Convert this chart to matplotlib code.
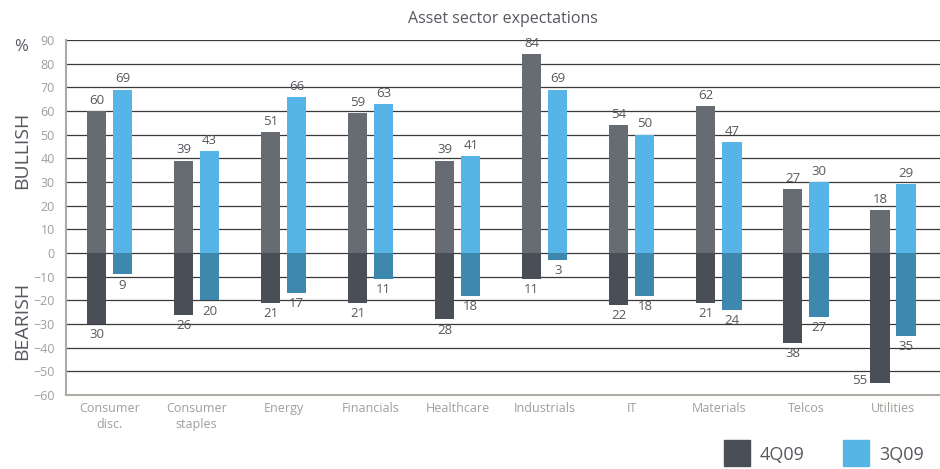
import matplotlib.pyplot as plt
import numpy as np

plt.rcParams["font.family"] = ["Open Sans", "DejaVu Sans"]

sectors = ["Consumer\ndisc.", "Consumer\nstaples", "Energy", "Financials", "Healthcare",
           "Industrials", "IT", "Materials", "Telcos", "Utilities"]
bull_4q = [60, 39, 51, 59, 39, 84, 54, 62, 27, 18]
bull_3q = [69, 43, 66, 63, 41, 69, 50, 47, 30, 29]
bear_4q = [30, 26, 21, 21, 28, 11, 22, 21, 38, 55]
bear_3q = [9, 20, 17, 11, 18, 3, 18, 24, 27, 35]

dark_pos, dark_neg = "#676b72", "#4a4e57"
blue_pos, blue_neg = "#56b5e6", "#3f88ad"
txt = "#55585e"
tick_c = "#a39d98"

fig = plt.figure(figsize=(9.4, 4.69), dpi=100)
ax = fig.add_axes([0.0702, 0.1578, 0.9298, 0.7569])

x = np.arange(len(sectors))
w = 0.22
off = 0.15

for yv in range(-60, 91, 10):
    ax.axhline(yv, color="#3a3a3a", lw=0.9, zorder=1)

ax.bar(x - off, bull_4q, w, color=dark_pos, zorder=2)
ax.bar(x - off, [-v for v in bear_4q], w, color=dark_neg, zorder=2)
ax.bar(x + off, bull_3q, w, color=blue_pos, zorder=2)
ax.bar(x + off, [-v for v in bear_3q], w, color=blue_neg, zorder=2)

for i in range(len(sectors)):
    ax.text(x[i] - off, bull_4q[i] + 1.8, str(bull_4q[i]), ha="center", va="bottom", fontsize=9.5, color=txt)
    ax.text(x[i] + off, bull_3q[i] + 1.8, str(bull_3q[i]), ha="center", va="bottom", fontsize=9.5, color=txt)
    if i == 9:
        ax.text(x[i] - off - 0.15, -bear_4q[i] + 1, str(bear_4q[i]), ha="right", va="center", fontsize=9.5, color=txt)
    else:
        ax.text(x[i] - off, -bear_4q[i] - 1.8, str(bear_4q[i]), ha="center", va="top", fontsize=9.5, color=txt)
    ax.text(x[i] + off, -bear_3q[i] - 1.8, str(bear_3q[i]), ha="center", va="top", fontsize=9.5, color=txt)

ax.set_xlim(-0.5, 9.54)
ax.set_ylim(-60, 90)
ax.set_yticks(range(-60, 91, 10))
ax.set_xticks(x)
ax.set_xticklabels(sectors, fontsize=9, color=tick_c, linespacing=1.3)
ax.tick_params(axis="y", labelsize=9, labelcolor=tick_c, length=0, pad=8)
ax.tick_params(axis="x", length=0, pad=5)
for s in ["top", "right"]:
    ax.spines[s].set_visible(False)
for s in ["left", "bottom"]:
    ax.spines[s].set_color("#b0aaa5")
    ax.spines[s].set_linewidth(1.5)
    ax.spines[s].set_zorder(3)

fig.text(0.535, 0.96, "Asset sector expectations", ha="center", va="center", fontsize=11.5, color=txt)
fig.text(0.022, 0.9, "%", ha="center", va="center", fontsize=12, color=txt)
fig.text(0.024, 0.68, "BULLISH", ha="center", va="center", rotation=90, fontsize=14, color=txt)
fig.text(0.024, 0.315, "BEARISH", ha="center", va="center", rotation=90, fontsize=14, color=txt)

fig.patches.append(plt.Rectangle((724 / 940, 3 / 469), 26 / 940, 26 / 469, transform=fig.transFigure,
                                 color=dark_neg, figure=fig))
fig.patches.append(plt.Rectangle((843 / 940, 3 / 469), 26 / 940, 26 / 469, transform=fig.transFigure,
                                 color=blue_pos, figure=fig))
fig.text(760 / 940, 14 / 469, "4Q09", ha="left", va="center", fontsize=13, color=txt)
fig.text(879 / 940, 14 / 469, "3Q09", ha="left", va="center", fontsize=13, color=txt)

fig.savefig("out.png", dpi=100)
